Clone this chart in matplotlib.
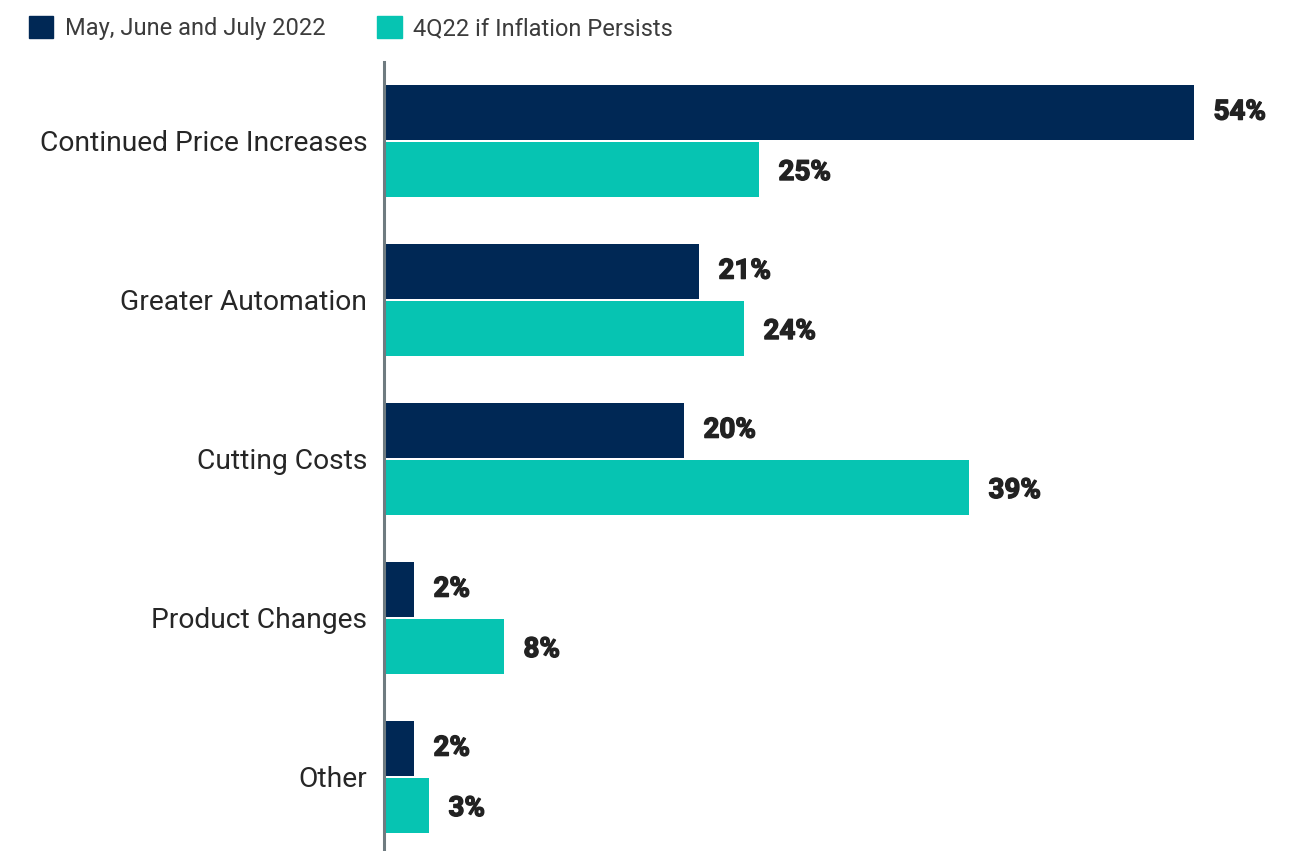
import matplotlib
matplotlib.use('Agg')
import matplotlib.pyplot as plt
import matplotlib.patheffects as pe
from matplotlib.patches import Patch
import numpy as np

categories = ["Continued Price Increases", "Greater Automation", "Cutting Costs",
              "Product Changes", "Other"]
summer_2022 = [54, 21, 20, 2, 2]
q4_2022 = [25, 24, 39, 8, 3]
series_names = ["May, June and July 2022", "4Q22 if Inflation Persists"]

navy = "#002855"
teal = "#06c4b2"

plt.rcParams['font.family'] = ['Roboto', 'DejaVu Sans']

fig = plt.figure(figsize=(12.9, 8.51), dpi=100)
ax = fig.add_axes([384 / 1290, 0, 1 - 384 / 1290, 1 - 62 / 851])

y = np.arange(len(categories))
h = 0.345
off = 0.18
ax.barh(y - off, summer_2022, height=h, color=navy)
ax.barh(y + off, q4_2022, height=h, color=teal)

heavy = [pe.withStroke(linewidth=1.0, foreground='#222222')]
for ys, vals in [(y - off, summer_2022), (y + off + 0.02, q4_2022)]:
    for yi, v in zip(ys, vals):
        ax.text(v + 1.3, yi, f"{v}%", va='center', ha='left', fontsize=20,
                fontweight='bold', color='#222222', path_effects=heavy)

ax.set_xlim(0, 60.4)
ax.set_ylim(4.467, -0.495)
ax.set_yticks(y)
ax.set_yticklabels(categories, fontsize=20.3, color='#262626')
ax.tick_params(axis='y', length=0, pad=12)
ax.set_xticks([])
for s in ['top', 'right', 'bottom']:
    ax.spines[s].set_visible(False)
ax.spines['left'].set_color('#6f7b80')
ax.spines['left'].set_linewidth(2.2)

handles = [Patch(color=navy), Patch(color=teal)]
fig.legend(handles, series_names, loc='upper left', bbox_to_anchor=(0.006, 1.006),
           ncol=2, frameon=False, fontsize=17, handlelength=1.02, handleheight=1.02,
           handletextpad=0.5, columnspacing=2.2, labelcolor='#3c3c3c')

fig.savefig("out.png", dpi=100)
